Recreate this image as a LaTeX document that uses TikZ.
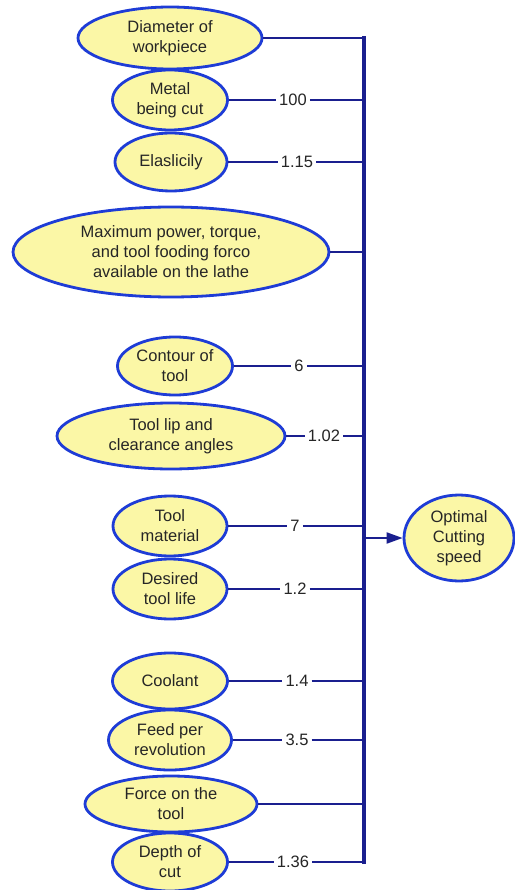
\documentclass[tikz,border=0pt]{standalone}
\usepackage{fontspec}
\setmainfont{Liberation Sans}
\usetikzlibrary{shapes.geometric,arrows.meta}
\definecolor{efill}{HTML}{FBF7A6}
\definecolor{eborder}{HTML}{1E3CD6}
\definecolor{navy}{HTML}{1A1F8F}
\tikzset{
  oval/.style={ellipse, draw=eborder, line width=2.8pt, fill=efill, inner sep=0pt,
    align=center, font=\fontsize{16.5}{20}\selectfont, text=black!85},
  conn/.style={draw=navy, line width=2pt},
  connb/.style={draw=navy, line width=2.8pt},
  bus/.style={draw=navy, line width=3.2pt},
  lbl/.style={fill=white, inner xsep=3pt, inner ysep=1pt, font=\fontsize{16.5}{18}\selectfont, text=black!85},
}
\begin{document}
\begin{tikzpicture}[x=1pt,y=-1pt]
\useasboundingbox (0,0) rectangle (514,890);
\coordinate (bus) at (364,0);
\coordinate (bustop) at (364,36.5);
\coordinate (busbot) at (364,863.5);

\node[oval, minimum width=184pt, minimum height=62pt] (n1) at (170,38) {Diameter of\\workpiece};
\node[oval, minimum width=115pt, minimum height=60pt] (n2) at (170,100) {Metal\\being cut};
\node[oval, minimum width=112pt, minimum height=58pt] (n3) at (171,162) {Elaslicily};
\node[oval, minimum width=316pt, minimum height=90pt] (n4) at (171,252) {Maximum power, torque,\\and tool fooding forco\\available on the lathe};
\node[oval, minimum width=115pt, minimum height=58pt] (n5) at (175,366) {Contour of\\tool};
\node[oval, minimum width=228pt, minimum height=66pt] (n6) at (171,436) {Tool lip and\\clearance angles};
\node[oval, minimum width=114pt, minimum height=60pt] (n7) at (170,526) {Tool\\material};
\node[oval, minimum width=114pt, minimum height=60pt] (n8) at (170,589) {Desired\\tool life};
\node[oval, minimum width=115pt, minimum height=56pt] (n9) at (170,681) {Coolant};
\node[oval, minimum width=123pt, minimum height=60pt] (n10) at (170,740) {Feed per\\revolution};
\node[oval, minimum width=172pt, minimum height=56pt] (n11) at (171,804) {Force on the\\tool};
\node[oval, minimum width=115pt, minimum height=58pt] (n12) at (170,862) {Depth of\\cut};
\node[oval, minimum width=110pt, minimum height=86pt] (out) at (459,538) {Optimal\\Cutting\\speed};

% bus
\draw[bus] (bustop) -- (busbot);

% connectors
\draw[conn] (n1) -- (n1 -| bus);
\node[lbl] (l2) at (293,100) {100};
\draw[conn] (n2) -- (l2) -- (l2 -| bus);
\node[lbl] (l3) at (297,162) {1.15};
\draw[connb] (n3) -- (l3) -- (l3 -| bus);
\draw[conn] (n4) -- (n4 -| bus);
\node[lbl] (l5) at (299,366) {6};
\draw[connb] (n5) -- (l5) -- (l5 -| bus);
\node[lbl] (l6) at (324,436) {1.02};
\draw[conn] (n6) -- (l6) -- (l6 -| bus);
\node[lbl] (l7) at (295,526) {7};
\draw[conn] (n7) -- (l7) -- (l7 -| bus);
\node[lbl] (l8) at (295,589) {1.2};
\draw[conn] (n8) -- (l8) -- (l8 -| bus);
\node[lbl] (l9) at (297,681) {1.4};
\draw[connb] (n9) -- (l9) -- (l9 -| bus);
\node[lbl] (l10) at (297,740) {3.5};
\draw[conn] (n10) -- (l10) -- (l10 -| bus);
\draw[connb] (n11) -- (n11 -| bus);
\node[lbl] (l12) at (293,862) {1.36};
\draw[conn] (n12) -- (l12) -- (l12 -| bus);

% output arrow
\draw[conn, -{Triangle[length=16pt,width=11pt]}] (out -| bus) -- (out.west);
\end{tikzpicture}
\end{document}
